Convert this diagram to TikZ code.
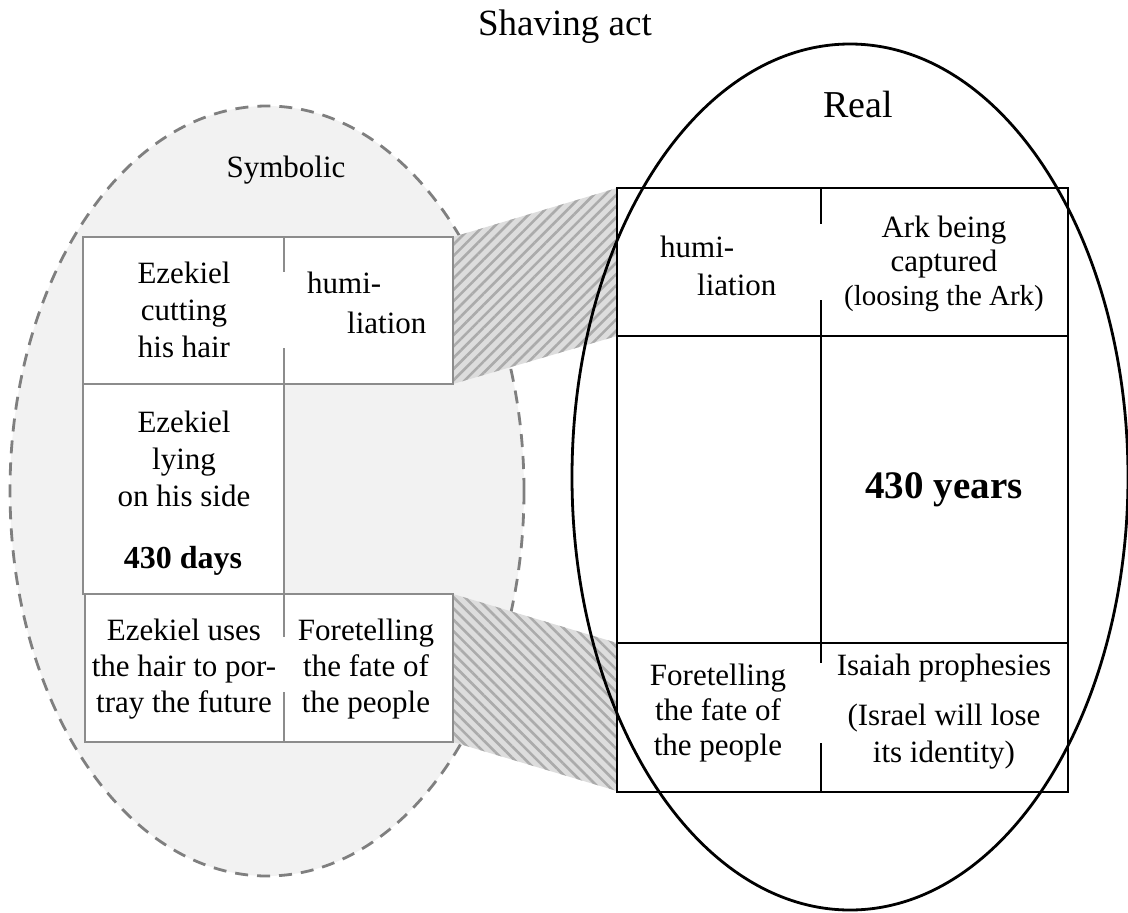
\documentclass[tikz,border=0pt]{standalone}
\usepackage{fontspec}
\setmainfont{Liberation Serif}
\usepackage{tikz}
\usetikzlibrary{patterns.meta}

\definecolor{symfill}{HTML}{F2F2F2}
\definecolor{symborder}{HTML}{7F7F7F}
\definecolor{tablegray}{HTML}{8C8C8C}
\definecolor{hatchbg}{HTML}{DDDDDD}
\definecolor{hatchline}{HTML}{ABABAB}

\begin{document}
\begin{tikzpicture}[x=1pt,y=-1pt,
        celltext/.style={align=center, inner sep=0pt, anchor=north, font=\fontsize{31}{37}\selectfont},
        bigtext/.style={inner sep=0pt, anchor=base, font=\fontsize{37}{42}\selectfont}]
        \useasboundingbox (0,0) rectangle (1128,913);

        % Symbolic side
        \draw[symborder, line width=2.8pt, dash pattern=on 13pt off 9pt, fill=symfill] (267,491) ellipse [x radius=257pt, y radius=385pt];

        % Hatched links between the tables
        \fill[hatchbg] (453,237) -- (617,188) -- (617,336) -- (453,384) -- cycle;
        \fill[pattern={Lines[angle=45,distance=8pt,line width=2.6pt]}, pattern color=hatchline] (453,237) -- (617,188) -- (617,336) -- (453,384) -- cycle;
        \fill[hatchbg] (453,594) -- (617,643) -- (617,791) -- (453,742) -- cycle;
        \fill[pattern={Lines[angle=-45,distance=8pt,line width=2.6pt]}, pattern color=hatchline] (453,594) -- (617,643) -- (617,791) -- (453,742) -- cycle;

        % Symbolic table
        \fill[white] (83,237) rectangle (453,384);
        \fill[white] (83,384) rectangle (284,594);
        \fill[white] (85,594) rectangle (453,742);
        \draw[tablegray, line width=1.5pt] (83,237) rectangle (453,384);
        \draw[tablegray, line width=1.5pt] (83,384) -- (83,594) -- (284,594) -- (284,384);
        \draw[tablegray, line width=1.5pt] (85,594) rectangle (453,742);
        \draw[tablegray, line width=1.5pt] (284,237) -- (284,272);
        \draw[tablegray, line width=1.5pt] (284,348) -- (284,384);
        \draw[tablegray, line width=1.5pt] (284,594) -- (284,637);
        \draw[tablegray, line width=1.5pt] (284,692) -- (284,742);

        % Real table
        \draw[line width=1.6pt] (617,188) rectangle (1068,792);
        \draw[line width=1.6pt] (617,336) -- (1068,336);
        \draw[line width=1.6pt] (617,643) -- (1068,643);
        \draw[line width=1.6pt] (821,188) -- (821,224);
        \draw[line width=1.6pt] (821,300) -- (821,663);
        \draw[line width=1.6pt] (821,743) -- (821,792);

        % Real side
        \draw[line width=2.8pt] (850,477) ellipse [x radius=278pt, y radius=433pt];

        % Headings
        \node[bigtext] (title) at (565,35) {Shaving act};
        \node[bigtext, font=\fontsize{38}{44}\selectfont] (real) at (858,117) {Real};
        \node[bigtext, font=\fontsize{31}{36}\selectfont] (symbolic) at (286,177) {Symbolic};

        % Symbolic cells
        \node[celltext] (ezcut) at (184,262) {Ezekiel\\cutting\\his hair};
        \node[celltext, align=left, anchor=north west, font=\fontsize{31}{40}\selectfont] (humisym) at (307,272) {humi-\\\hspace*{40pt}liation};
        \node[celltext] (ezlie) at (184,411) {Ezekiel\\lying\\on his side};
        \node[inner sep=0pt, anchor=base, font=\fontsize{32}{38}\selectfont\bfseries] (days) at (183,568) {430 days};
        \node[celltext, font=\fontsize{31}{36}\selectfont] (ezhair) at (184,619) {Ezekiel uses\\the hair to por-\\tray the future};
        \node[celltext, font=\fontsize{31}{36}\selectfont] (forsym) at (366,619) {Foretelling\\the fate of\\the people};

        % Real cells
        \node[celltext, align=left, anchor=north west, font=\fontsize{31}{38}\selectfont] (humireal) at (660,236) {humi-\\\hspace*{37pt}liation};
        \node[celltext, font=\fontsize{31}{34}\selectfont] (ark) at (944,216) {Ark being\\captured\\{\fontsize{29}{34}\selectfont(loosing the Ark)}};
        \node[inner sep=0pt, font=\fontsize{39}{45}\selectfont\bfseries] (years) at (944,490) {430 years};
        \node[celltext, font=\fontsize{31}{35}\selectfont] (forreal) at (718,664) {Foretelling\\the fate of\\the people};
        \node[celltext] (isaiah) at (944,654) {Isaiah prophesies\\[13pt](Israel will lose\\its identity)};
\end{tikzpicture}
\end{document}
